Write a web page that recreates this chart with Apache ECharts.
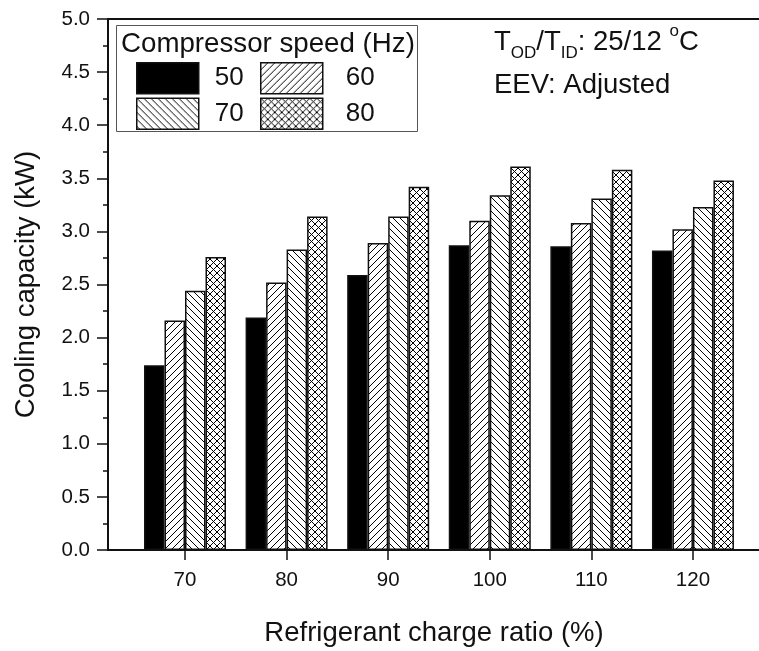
<!DOCTYPE html>
<html><head><meta charset="utf-8">
<script src="https://cdn.jsdelivr.net/npm/echarts@6/dist/echarts.min.js"></script>
<style>html,body{margin:0;padding:0;background:#fff}#c{width:759px;height:651px}</style>
</head><body><div id="c"></div>
<script>
// ---- data ----
const chargeRatios = [70, 80, 90, 100, 110, 120];
const speeds = ['50', '60', '70', '80'];
const cap50 = [1.74, 2.19, 2.59, 2.87, 2.86, 2.82];
const cap60 = [2.16, 2.52, 2.89, 3.10, 3.08, 3.02];
const cap70 = [2.44, 2.83, 3.14, 3.34, 3.31, 3.23];
const cap80 = [2.76, 3.14, 3.42, 3.61, 3.58, 3.48];

const FONT = '"Liberation Sans", Arial, Helvetica, sans-serif';
const INK = '#111';

function makePattern(kind) {
  const s = 7;
  const c = document.createElement('canvas');
  c.width = s; c.height = s;
  const g = c.getContext('2d');
  g.fillStyle = '#fff'; g.fillRect(0, 0, s, s);
  g.strokeStyle = '#000'; g.lineWidth = 1;
  g.beginPath();
  if (kind === 'fwd' || kind === 'cross') {
    g.moveTo(-1, s + 1); g.lineTo(s + 1, -1);
    g.moveTo(-1, 1); g.lineTo(1, -1);
    g.moveTo(s - 1, s + 1); g.lineTo(s + 1, s - 1);
  }
  if (kind === 'back' || kind === 'cross') {
    g.moveTo(-1, -1); g.lineTo(s + 1, s + 1);
    g.moveTo(s - 1, -1); g.lineTo(s + 1, 1);
    g.moveTo(-1, s - 1); g.lineTo(1, s + 1);
  }
  g.stroke();
  return { image: c, repeat: 'repeat' };
}

const fills = ['#000', makePattern('fwd'), makePattern('back'), makePattern('cross')];
const values = [cap50, cap60, cap70, cap80];

const series = speeds.map((name, i) => ({
  name: name,
  type: 'bar',
  barWidth: 20.5,
  barGap: '0%',
  data: chargeRatios.map((x, j) => [x, values[i][j]]),
  itemStyle: { color: fills[i], borderColor: '#111', borderWidth: 1.5 },
  emphasis: { disabled: true }
}));

const chart = echarts.init(document.getElementById('c'), null, { renderer: 'canvas' });
const legendCommon = {
  orient: 'vertical', top: 62, padding: 0, itemWidth: 62, itemHeight: 31, itemGap: 3,
  icon: 'rect', selectedMode: false, formatter: '{p|{name}}',
  itemStyle: { borderColor: '#111', borderWidth: 1.5 }
};
chart.setOption({
  animation: false,
  backgroundColor: '#fff',
  textStyle: { fontFamily: FONT },
  grid: { left: 108, right: -1, top: 19, bottom: 101, containLabel: false, outerBoundsMode: 'none' },
  legend: [
    Object.assign({}, legendCommon, {
      data: ['50', '70'], left: 136,
      textStyle: { fontFamily: FONT, fontSize: 26, color: INK, lineHeight: 31,
        rich: { p: { fontFamily: FONT, fontSize: 26, color: INK, padding: [0, 0, 0, 11] } } }
    }),
    Object.assign({}, legendCommon, {
      data: ['60', '80'], left: 260,
      textStyle: { fontFamily: FONT, fontSize: 26, color: INK, lineHeight: 31,
        rich: { p: { fontFamily: FONT, fontSize: 26, color: INK, padding: [0, 0, 0, 18] } } }
    })
  ],
  xAxis: [{
    type: 'value', position: 'bottom', min: 62.42, max: 126.6,
    axisLine: { show: true, lineStyle: { color: INK, width: 2 } },
    axisTick: { show: true, customValues: chargeRatios, length: 10, inside: false, lineStyle: { color: INK, width: 1.5 } },
    axisLabel: { customValues: chargeRatios, fontSize: 20.5, margin: 20, color: INK, fontFamily: FONT },
    splitLine: { show: false },
    name: 'Refrigerant charge ratio (%)', nameLocation: 'middle', nameGap: 69,
    nameTextStyle: { fontSize: 27.5, color: INK, fontFamily: FONT }
  }, {
    type: 'value', position: 'top', min: 62.42, max: 126.6,
    axisLine: { show: true, lineStyle: { color: INK, width: 2 } },
    axisTick: { show: false }, axisLabel: { show: false }, splitLine: { show: false }
  }],
  yAxis: {
    type: 'value', min: 0, max: 5, interval: 0.5,
    axisLine: { show: true, lineStyle: { color: INK, width: 2 } },
    axisTick: { show: true, length: 11, inside: false, lineStyle: { color: INK, width: 1.5 } },
    minorTick: { show: true, splitNumber: 2, length: 5, lineStyle: { color: INK, width: 1.5 } },
    axisLabel: { formatter: v => v.toFixed(1), fontSize: 20.5, margin: 18, color: INK, fontFamily: FONT },
    splitLine: { show: false },
    name: 'Cooling capacity (kW)', nameLocation: 'middle', nameRotate: 90, nameGap: 68,
    nameTextStyle: { fontSize: 27.5, color: INK, fontFamily: FONT }
  },
  graphic: [
    { type: 'rect', shape: { x: 116.5, y: 25.5, width: 301, height: 106 },
      style: { fill: 'none', stroke: '#555', lineWidth: 1 }, z: 10, silent: true },
    { type: 'text', left: 121, top: 28, z: 11, silent: true,
      style: { text: 'Compressor speed (Hz)', fontSize: 27.7, fontFamily: FONT, fill: INK, lineHeight: 32 } },
    { type: 'text', left: 494, top: 23, z: 11, silent: true,
      style: { text: 'T{sub|OD}/T{sub|ID}: 25/12 {sup|o}C', fontSize: 27.5, fontFamily: FONT, fill: INK, lineHeight: 39,
        rich: { sub: { fontSize: 17, fontFamily: FONT, fill: INK, lineHeight: 18, verticalAlign: 'bottom' },
                sup: { fontSize: 17, fontFamily: FONT, fill: INK, lineHeight: 18, verticalAlign: 'top' } } } },
    { type: 'text', left: 494, top: 69, z: 11, silent: true,
      style: { text: 'EEV: Adjusted', fontSize: 27.5, fontFamily: FONT, fill: INK, lineHeight: 32 } }
  ],
  series: series
});
</script>
</body></html>
